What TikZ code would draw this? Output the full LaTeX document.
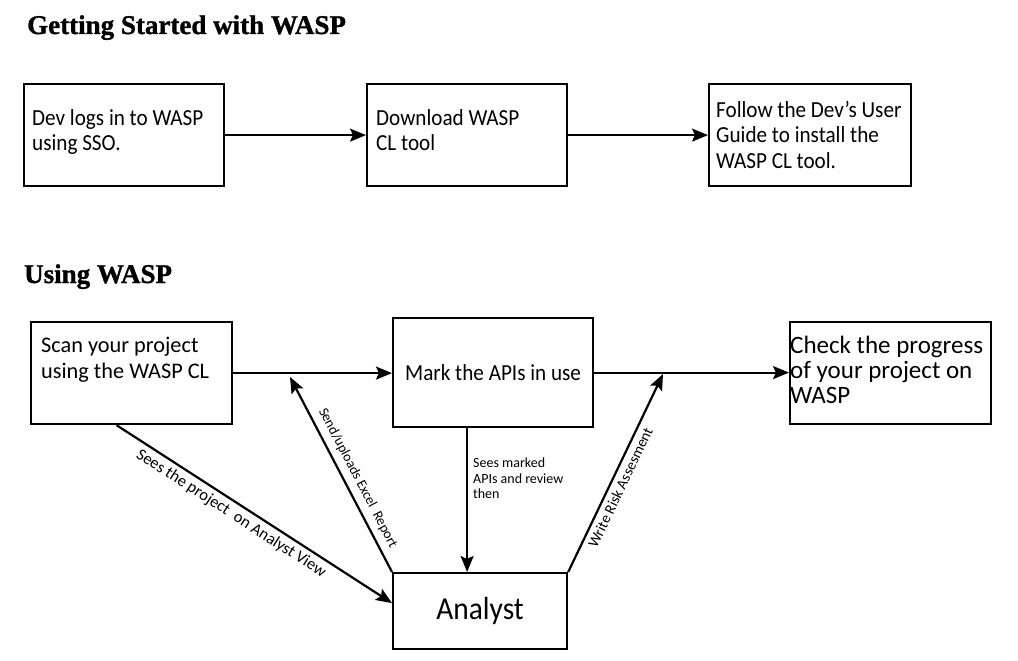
\documentclass[tikz,border=0pt]{standalone}
\usepackage{fontspec}
\setmainfont{Carlito}
\newfontfamily\boxfont[FakeStretch=0.92]{Carlito}
\newfontfamily\titlefont[FakeBold=1.2]{Liberation Serif}
\usetikzlibrary{arrows.meta}
\begin{document}
\begin{tikzpicture}[x=1pt,y=-1pt,
  box/.style={draw, line width=2.2pt, inner sep=0pt, anchor=north west},
  txt/.style={inner sep=0pt, align=left, anchor=north west, font=\boxfont\fontsize{23}{25.5}\selectfont},
  arr/.style={line width=2.2pt, -{Stealth[length=16pt,width=13pt,inset=3pt]}},
  lab/.style={font=\fontsize{15}{17}\selectfont, inner sep=5pt},
  ttl/.style={font=\titlefont\bfseries\fontsize{27}{30}\selectfont, inner sep=0pt, anchor=base west}]
\useasboundingbox (0,0) rectangle (1018,661);
\fill[white] (0,0) rectangle (1018,661);

% titles
\node[ttl] (t1) at (27,34) {Getting Started with WASP};
\node[ttl] (t2) at (24,283) {Using WASP};

% row 1
\node[box, minimum width=200pt, minimum height=102pt] (b1) at (23,83) {};
\node[box, minimum width=200pt, minimum height=102pt] (b2) at (366,83) {};
\node[box, minimum width=202pt, minimum height=102pt] (b3) at (708,83) {};
\node[txt] (b1t) at (32,109) {Dev logs in to WASP\\using SSO.};
\node[txt] (b2t) at (376,109) {Download WASP\\CL tool};
\node[txt] (b3t) at (716,101) {Follow the Dev’s User\\Guide to install the\\WASP CL tool.};
\draw[arr] (b1.east) -- (b2.west);
\draw[arr] (b2.east) -- (b3.west);

% row 2
\node[box, minimum width=201pt, minimum height=102pt] (a) at (30,321) {};
\node[box, minimum width=200pt, minimum height=109pt, font=\boxfont\fontsize{23}{25}\selectfont] (b) at (392,317) {Mark the APIs in use};
\node[box, minimum width=174pt, minimum height=76pt, font=\boxfont\fontsize{32}{34}\selectfont] (an) at (392,572) {Analyst};
\node[box, minimum width=201pt, minimum height=102pt] (c) at (789,321) {};
\node[txt, font=\fontsize{22.3}{26}\selectfont] (at) at (41,337) {Scan your project\\using the WASP CL};
\node[txt, font=\fontsize{25}{25}\selectfont] (ct) at (790,336) {Check the progress\\of your project on\\WASP};

\draw[arr] (a.east) -- (a.east -| b.west);
\draw[arr] (b.east) -- (b.east -| c.west);

\coordinate (s1) at (290,377);
\coordinate (w1) at (663,374);
\coordinate (a0) at ([xshift=-15pt]a.south);
\coordinate (an0) at ([yshift=8pt]an.west);

\draw[arr] (a0) -- (an0);
\draw[arr] (an.north west) -- (s1);
\draw[arr] ([xshift=-26pt]b.south) -- ([xshift=-26pt]b.south |- an.north);
\draw[arr] (an.north east) -- (w1);

\path (a0) -- (an0) node[lab, pos=0.44, sloped, below, font=\fontsize{16.5}{18}\selectfont] (l1) {Sees the project~ on Analyst View};
\path (s1) -- (an.north west) node[lab, pos=0.55, sloped, above, inner sep=7pt, font=\fontsize{14}{16}\selectfont] (l2) {Send/uploads Excel~ Report};
\path (an.north east) -- (w1) node[lab, pos=0.45, sloped, below] (l3) {Write Risk Assesment};
\node[txt, font=\fontsize{14}{15.5}\selectfont] (l4) at (473,458) {Sees marked\\APIs and review\\then};
\end{tikzpicture}
\end{document}
